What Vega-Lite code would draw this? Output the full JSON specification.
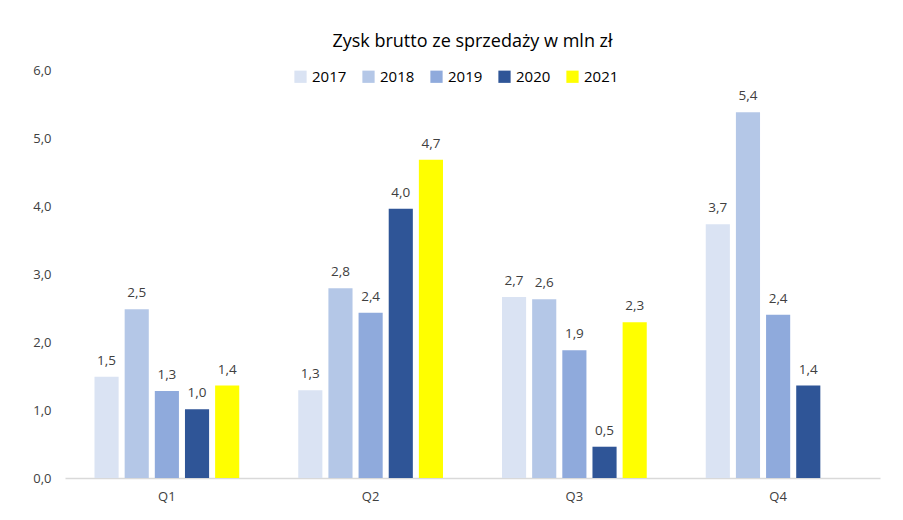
{
  "$schema": "https://vega.github.io/schema/vega-lite/v6.json",
  "width": 815,
  "height": 408,
  "autosize": "none",
  "padding": {"left": 65, "top": 70, "right": 23, "bottom": 42},
  "background": "white",
  "title": {
    "text": "Zysk brutto ze sprzedaży w mln zł",
    "anchor": "middle",
    "fontSize": 18,
    "font": "Open Sans",
    "fontWeight": "normal",
    "color": "#000000",
    "offset": 13
  },
  "config": {
    "locale": {"number": {"decimal": ",", "thousands": " ", "grouping": [3], "currency": ["", " zł"]}},
    "view": {"stroke": null},
    "font": "Open Sans"
  },
  "data": {
    "values": [
      {"quarter": "Q1", "year": "2017", "value": 1.49},
      {"quarter": "Q1", "year": "2018", "value": 2.48},
      {"quarter": "Q1", "year": "2019", "value": 1.28},
      {"quarter": "Q1", "year": "2020", "value": 1.01},
      {"quarter": "Q1", "year": "2021", "value": 1.36},
      {"quarter": "Q2", "year": "2017", "value": 1.29},
      {"quarter": "Q2", "year": "2018", "value": 2.79},
      {"quarter": "Q2", "year": "2019", "value": 2.43},
      {"quarter": "Q2", "year": "2020", "value": 3.96},
      {"quarter": "Q2", "year": "2021", "value": 4.68},
      {"quarter": "Q3", "year": "2017", "value": 2.66},
      {"quarter": "Q3", "year": "2018", "value": 2.63},
      {"quarter": "Q3", "year": "2019", "value": 1.88},
      {"quarter": "Q3", "year": "2020", "value": 0.46},
      {"quarter": "Q3", "year": "2021", "value": 2.29},
      {"quarter": "Q4", "year": "2017", "value": 3.73},
      {"quarter": "Q4", "year": "2018", "value": 5.38},
      {"quarter": "Q4", "year": "2019", "value": 2.40},
      {"quarter": "Q4", "year": "2020", "value": 1.36}
    ]
  },
  "encoding": {
    "x": {
      "field": "quarter",
      "type": "nominal",
      "scale": {"paddingInner": 0.26, "paddingOuter": 0.13},
      "axis": {
        "title": null,
        "labelAngle": 0,
        "ticks": false,
        "domainColor": "#D9D9D9",
        "domainWidth": 1.5,
        "labelColor": "#404040",
        "labelFontSize": 13,
        "labelPadding": 12
      }
    },
    "xOffset": {
      "field": "year",
      "type": "nominal",
      "scale": {"paddingInner": 0.2, "paddingOuter": 0.1}
    },
    "y": {
      "field": "value",
      "type": "quantitative",
      "scale": {"domain": [0, 6], "nice": false},
      "axis": {
        "title": null,
        "values": [0, 1, 2, 3, 4, 5, 6],
        "format": ".1f",
        "labelOverlap": false,
        "grid": false,
        "domain": false,
        "ticks": false,
        "labelColor": "#404040",
        "labelFontSize": 13,
        "labelPadding": 14
      }
    }
  },
  "layer": [
    {
      "mark": {"type": "bar"},
      "encoding": {
        "color": {
          "field": "year",
          "type": "nominal",
          "scale": {
            "domain": ["2017", "2018", "2019", "2020", "2021"],
            "range": ["#DAE3F3", "#B4C7E7", "#8FAADC", "#2F5597", "#FFFF00"]
          },
          "legend": {
            "title": null,
            "orient": "none",
            "direction": "horizontal",
            "legendX": 228,
            "legendY": -1,
            "symbolType": "square",
            "symbolSize": 150,
            "symbolStrokeWidth": 0,
            "labelFontSize": 15,
            "labelColor": "#000000",
            "columnPadding": 14,
            "labelOffset": 4
          }
        }
      }
    },
    {
      "mark": {"type": "text", "dy": -16, "fontSize": 13.5, "color": "#404040"},
      "encoding": {
        "text": {"field": "value", "type": "quantitative", "format": ".1f"}
      }
    }
  ]
}
